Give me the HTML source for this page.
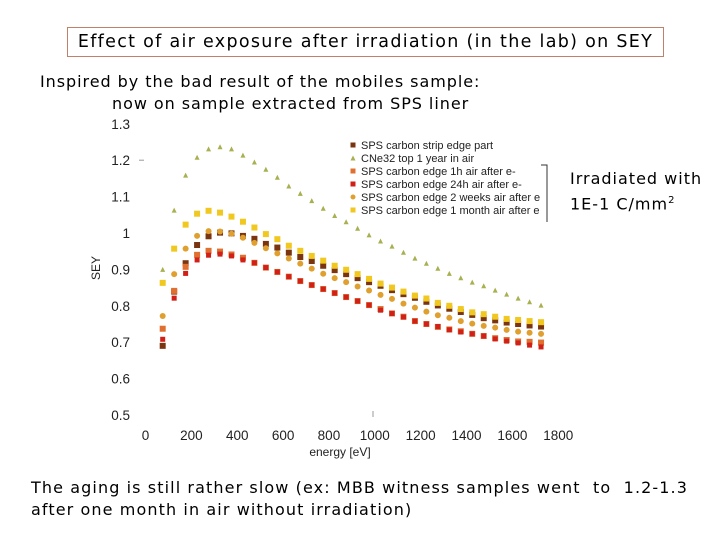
<!DOCTYPE html>
<html><head><meta charset="utf-8"><style>
body{margin:0;width:720px;height:540px;background:#fff;overflow:hidden;position:relative;font-family:"DejaVu Sans",sans-serif}
.t{position:absolute;white-space:nowrap;color:#000}
</style></head><body>
<div class="t" style="left:67px;top:27px;width:595px;height:28px;border:1px solid #c0806a;font-size:17.5px;line-height:28px;text-align:center;letter-spacing:1.3px">Effect of air exposure after irradiation (in the lab) on SEY</div>
<div class="t" style="left:40px;top:72px;font-size:16px;letter-spacing:0.95px">Inspired by the bad result of the mobiles sample:</div>
<div class="t" style="left:112px;top:94px;font-size:16px;letter-spacing:0.95px">now on sample extracted from SPS liner</div>
<div class="t" style="left:570px;top:168px;font-size:16px;line-height:22px;letter-spacing:1px">Irradiated with<br>1E-1 C/mm<sup style="font-size:10px">2</sup></div>
<div class="t" style="left:31px;top:477px;font-size:16px;line-height:22px;letter-spacing:1.1px">The aging is still rather slow (ex: MBB witness samples went&nbsp; to&nbsp; 1.2-1.3<br>after one month in air without irradiation)</div>
<svg id="chart" width="720" height="540" style="position:absolute;left:0;top:0" font-family="Liberation Sans, sans-serif"></svg>
<script>
const energies=[75,125,175,225,275,325,375,425,475,525,575,625,675,725,775,825,875,925,975,1025,1075,1125,1175,1225,1275,1325,1375,1425,1475,1525,1575,1625,1675,1725];
const xTicks=[0,200,400,600,800,1000,1200,1400,1600,1800];
const yTicks=[0.5,0.6,0.7,0.8,0.9,1,1.1,1.2,1.3];
const seriesNames=["SPS carbon strip edge part","CNe32 top 1 year in air","SPS carbon edge 1h air after e-","SPS carbon edge 24h air after e-","SPS carbon edge 2 weeks air after e","SPS carbon edge 1 month air after e"];
const stripEdge=[0.690,0.839,0.917,0.967,0.991,1.001,0.999,0.992,0.984,0.970,0.960,0.946,0.934,0.923,0.910,0.898,0.887,0.876,0.865,0.855,0.843,0.832,0.822,0.811,0.801,0.792,0.783,0.775,0.766,0.760,0.754,0.750,0.746,0.743];
const cne32=[0.900,1.063,1.159,1.208,1.231,1.237,1.231,1.214,1.195,1.175,1.153,1.129,1.109,1.089,1.068,1.048,1.031,1.013,0.995,0.978,0.964,0.947,0.931,0.917,0.903,0.889,0.877,0.865,0.855,0.843,0.832,0.821,0.811,0.802];
const air1h=[0.737,0.841,0.907,0.940,0.951,0.949,0.941,0.932,0.918,0.905,0.893,0.880,0.868,0.857,0.846,0.835,0.824,0.813,0.802,0.791,0.779,0.770,0.758,0.750,0.742,0.735,0.730,0.723,0.717,0.711,0.706,0.702,0.701,0.699];
const air24h=[0.708,0.821,0.889,0.926,0.939,0.942,0.937,0.926,0.918,0.905,0.893,0.880,0.868,0.857,0.846,0.835,0.824,0.813,0.802,0.788,0.779,0.769,0.758,0.750,0.743,0.734,0.728,0.723,0.717,0.709,0.703,0.698,0.692,0.687];
const air2w=[0.772,0.887,0.957,0.992,1.005,1.004,0.998,0.987,0.973,0.958,0.944,0.930,0.916,0.902,0.888,0.876,0.865,0.853,0.842,0.830,0.819,0.806,0.795,0.784,0.774,0.767,0.758,0.751,0.745,0.740,0.734,0.729,0.726,0.723];
const air1m=[0.863,0.957,1.023,1.053,1.061,1.056,1.045,1.031,1.015,0.997,0.983,0.965,0.951,0.937,0.924,0.910,0.899,0.887,0.874,0.861,0.850,0.839,0.828,0.820,0.808,0.800,0.791,0.782,0.777,0.770,0.764,0.761,0.758,0.755];
const styles=[{c:"#7a3510",m:"sq",s:6},{c:"#a8b050",m:"tri",s:5},{c:"#e07030",m:"sq",s:6},{c:"#d02018",m:"sq",s:5},{c:"#e0a030",m:"dia",s:6},{c:"#f0c820",m:"sq",s:6}];
const allSeries=[stripEdge,cne32,air1h,air24h,air2w,air1m];
const NS="http://www.w3.org/2000/svg";
const svg=document.getElementById('chart');
const X=e=>145.5+e*0.2293, Y=v=>415-(v-0.5)*364;
function mk(tag,a){const el=document.createElementNS(NS,tag);for(const k in a)el.setAttribute(k,a[k]);svg.appendChild(el);return el;}
yTicks.forEach(v=>{const t=mk('text',{x:130,y:Y(v)+5,'text-anchor':'end','font-size':13.5,fill:'#222'});t.textContent=String(v);

});
xTicks.forEach(v=>{const t=mk('text',{x:X(v),y:440,'text-anchor':'middle','font-size':13.5,fill:'#222'});t.textContent=String(v);

});
let tk=mk('line',{x1:139,x2:144,y1:Y(1.2),y2:Y(1.2),stroke:'#999'});


tk=mk('line',{x1:373,x2:373,y1:411,y2:417,stroke:'#999'});


let at=mk('text',{x:340,y:456,'font-size':12,fill:'#222','text-anchor':'middle'});at.textContent='energy [eV]';


at=mk('text',{x:100,y:268,'font-size':12,fill:'#222','text-anchor':'middle',transform:'rotate(-90 100 268)'});at.textContent='SEY';


function marker(st,x,y){let el;const s=st.s;
 if(st.m==='sq')el=mk('rect',{x:x-s/2,y:y-s/2,width:s,height:s,fill:st.c});
 else if(st.m==='tri')el=mk('polygon',{points:`${x},${y-s/2} ${x-s/2},${y+s/2} ${x+s/2},${y+s/2}`,fill:st.c});
 else el=mk('circle',{cx:x,cy:y,r:s/2,fill:st.c});
 return el;}
allSeries.forEach((arr,i)=>{arr.forEach((v,j)=>{const el=marker(styles[i],X(energies[j]),Y(v));

});});
seriesNames.forEach((n,i)=>{const y=145+i*13;const m=marker({...styles[i],s:Math.min(styles[i].s,5)},353,y);


const t=mk('text',{x:361,y:y+4,'font-size':11,fill:'#222'});t.textContent=n;

});
const br=mk('polyline',{points:'541,165 547,165 547,222',fill:'none',stroke:'#333','stroke-width':1});


</script>
</body></html>
